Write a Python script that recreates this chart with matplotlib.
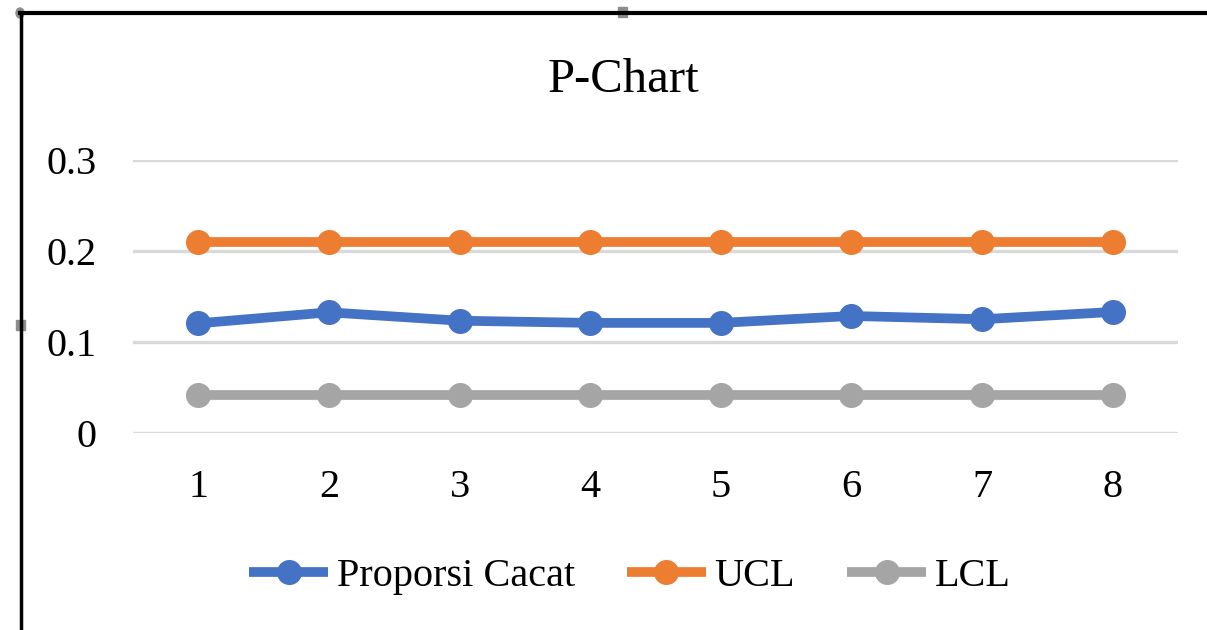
import matplotlib.pyplot as plt
from matplotlib.lines import Line2D
from matplotlib.patches import Rectangle, Ellipse

# data
sampel = [1, 2, 3, 4, 5, 6, 7, 8]
proporsi_cacat = [0.1205, 0.1326, 0.1234, 0.1210, 0.1210, 0.1286, 0.1250, 0.1330]
ucl = [0.2096] * 8
lcl = [0.0418] * 8
y_ticks = [0, 0.1, 0.2, 0.3]
y_labels = ['0', '0.1', '0.2', '0.3']

plt.rcParams['font.family'] = ['Liberation Serif', 'DejaVu Serif']

W, H = 1207, 630
fig = plt.figure(figsize=(W / 100, H / 100), dpi=100)

# plot area in pixels: x 133..1178, y 160..433
ax = fig.add_axes([133 / W, 1 - 433 / H, (1178 - 133) / W, (433 - 160) / H])

series = [
    (proporsi_cacat, '#4472C4', 'Proporsi Cacat'),
    (ucl, '#ED7D31', 'UCL'),
    (lcl, '#A5A5A5', 'LCL'),
]
for vals, col, lab in series:
    ax.plot(sampel, vals, color=col, lw=7, marker='o', ms=17, label=lab,
            solid_capstyle='butt', zorder=3)

ax.set_xlim(0.5, 8.5)
ax.set_ylim(0, 0.3)
ax.set_yticks(y_ticks)
ax.set_yticklabels(y_labels)
ax.set_xticks(sampel)
ax.grid(axis='y', color='#D9D9D9', lw=2.4)
ax.set_axisbelow(True)
for s in ax.spines.values():
    s.set_visible(False)
ax.tick_params(length=0, labelsize=29, colors='black')
ax.tick_params(axis='y', pad=26)
ax.tick_params(axis='x', pad=26)

fig.text(623 / W, 1 - 80 / H, 'P-Chart', ha='center', va='center', fontsize=35)

handles = [Line2D([0], [0], color=c, lw=7, marker='o', ms=17, solid_capstyle='butt')
           for _, c, _ in series]
fig.legend(handles, [l for _, _, l in series], loc='center',
           bbox_to_anchor=(630 / W, 1 - 576 / H), ncol=3, frameon=False,
           fontsize=29, handlelength=1.95, handletextpad=0.22, columnspacing=1.3)

# selection frame (top and left border with handles)
fig.add_artist(Line2D([20 / W, 1], [1 - 13 / H, 1 - 13 / H], color='black', lw=3,
                      transform=fig.transFigure))
fig.add_artist(Line2D([21 / W, 21 / W], [0, 1 - 13 / H], color='black', lw=2.5,
                      transform=fig.transFigure))
fig.add_artist(Ellipse((20 / W, 1 - 13 / H), 8 / W, 10 / H, color='#8C8C8C',
                       transform=fig.transFigure))
fig.add_artist(Rectangle((618 / W, 1 - 17 / H), 9 / W, 10 / H, color='#8C8C8C',
                         transform=fig.transFigure))
fig.add_artist(Rectangle((16 / W, 1 - 330 / H), 9 / W, 10 / H, color='#8C8C8C',
                         transform=fig.transFigure))

fig.savefig('out.png', dpi=100)
